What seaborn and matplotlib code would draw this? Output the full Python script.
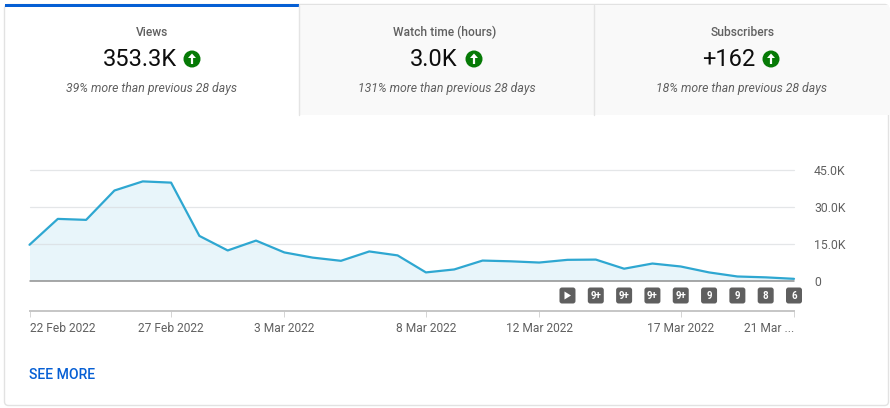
import matplotlib
matplotlib.use("Agg")
import matplotlib.pyplot as plt
import matplotlib.dates as mdates
from matplotlib.patches import Circle, FancyBboxPatch, Polygon, Rectangle
import pandas as pd
import seaborn as sns

# values
dates = ["2022-02-22", "2022-02-23", "2022-02-24", "2022-02-25", "2022-02-26", "2022-02-27", "2022-02-28",
         "2022-03-01", "2022-03-02", "2022-03-03", "2022-03-04", "2022-03-05", "2022-03-06", "2022-03-07",
         "2022-03-08", "2022-03-09", "2022-03-10", "2022-03-11", "2022-03-12", "2022-03-13", "2022-03-14",
         "2022-03-15", "2022-03-16", "2022-03-17", "2022-03-18", "2022-03-19", "2022-03-20", "2022-03-21"]
views = [14600, 25100, 24700, 36600, 40300, 39800, 18200,
         12300, 16300, 11500, 9400, 8100, 11900, 10300,
         3400, 4600, 8200, 7900, 7400, 8500, 8600,
         4900, 7000, 5800, 3400, 1750, 1400, 800]

tab_titles = ["Views", "Watch time (hours)", "Subscribers"]
tab_values = ["353.3K", "3.0K", "+162"]
tab_notes = ["39% more than previous 28 days", "131% more than previous 28 days", "18% more than previous 28 days"]

y_ticks = [0, 15000, 30000, 45000]
y_labels = ["0", "15.0K", "30.0K", "45.0K"]
x_ticks = ["2022-02-22", "2022-02-27", "2022-03-03", "2022-03-08", "2022-03-12", "2022-03-17", "2022-03-21"]
x_labels = ["22 Feb 2022", "27 Feb 2022", "3 Mar 2022", "8 Mar 2022", "12 Mar 2022", "17 Mar 2022", "21 Mar ..."]

badge_dates = ["2022-03-13", "2022-03-14", "2022-03-15", "2022-03-16", "2022-03-17",
               "2022-03-18", "2022-03-19", "2022-03-20", "2022-03-21"]
badge_labels = ["", "9+", "9+", "9+", "9+", "9", "9", "8", "6"]

BLUE = "#065fd4"
LINE = "#2ea7d1"
FILL = "#e8f5fa"
GREY = "#606060"
W, H = 890, 408

sns.set_theme(style="white")
plt.rcParams["font.family"] = ["Roboto", "DejaVu Sans"]

df = pd.DataFrame({"date": pd.to_datetime(dates), "views": views})

fig = plt.figure(figsize=(W / 100, H / 100), dpi=100)

# background layer in pixel coordinates for the card and tabs
bg = fig.add_axes([0, 0, 1, 1], zorder=0)
bg.set_xlim(0, W)
bg.set_ylim(H, 0)
bg.axis("off")

bg.add_patch(FancyBboxPatch((4.5, 4.5), 884, 401, boxstyle="round,pad=0,rounding_size=4",
                            fc="white", ec="#e2e2e2", lw=1))
bg.add_patch(Rectangle((298.5, 5), 590, 110, fc="#f9f9f9", ec="none"))
bg.plot([299, 299], [5, 115], color="#e4e4e4", lw=1)
bg.plot([594, 594], [5, 115], color="#e4e4e4", lw=1)
bg.add_patch(Rectangle((5, 4), 294, 3, fc=BLUE, ec="none"))

title_x = [152.5, 444.5, 742.5]
note_x = [152, 447, 742]
value_x = [139.5, 434, 729]
icon_x = [192, 474, 771]
for i in range(3):
    bg.text(title_x[i], 32, tab_titles[i], ha="center", va="center", fontsize=8.64, color=GREY, fontweight="medium")
    bg.text(value_x[i], 59, tab_values[i], ha="center", va="center", fontsize=17, color="#0d0d0d")
    bg.text(note_x[i], 88.5, tab_notes[i], ha="center", va="center", fontsize=8.8, color=GREY, style="italic")
    bg.add_patch(Circle((icon_x[i], 59), 8.5, fc="#067a06", ec="none"))
    cx = icon_x[i]
    bg.add_patch(Polygon([(cx, 53.5), (cx + 4, 58), (cx + 1.1, 58), (cx + 1.1, 64), (cx - 1.1, 64),
                          (cx - 1.1, 58), (cx - 4, 58)], fc="white", ec="none"))

bg.text(29, 375, "SEE MORE", ha="left", va="center", fontsize=10.1, color=BLUE, fontweight="medium")

# the chart itself
ax = fig.add_axes([29.5 / W, 1 - 280.8 / H, (794 - 29.5) / W, 111 / H], zorder=1)
ax.patch.set_alpha(0)
ax.fill_between(df["date"], df["views"], 0, color=FILL, lw=0, zorder=1)
sns.lineplot(data=df, x="date", y="views", color=LINE, linewidth=1.6, ax=ax, zorder=3, clip_on=False)

ax.set_xlim(df["date"].iloc[0], df["date"].iloc[-1])
ax.set_ylim(0, 45000)
ax.set_xlabel("")
ax.set_ylabel("")

ax.yaxis.tick_right()
ax.set_yticks(y_ticks)
ax.set_yticklabels(y_labels, fontsize=8.8, color=GREY)
ax.tick_params(axis="y", length=0, pad=14.4)
for v in y_ticks[1:]:
    ax.axhline(v, color="#d9dcdf", lw=0.9, alpha=0.7, zorder=2, clip_on=False)
ax.axhline(0, color="#909090", lw=1.1, zorder=4, clip_on=False)

for s in ["top", "left", "right"]:
    ax.spines[s].set_visible(False)
ax.spines["bottom"].set_position(("outward", 21.8))
ax.spines["bottom"].set_color("#c6c6c6")
ax.spines["bottom"].set_linewidth(1.4)

ax.set_xticks(pd.to_datetime(x_ticks))
ax.set_xticklabels(x_labels, fontsize=8.64, color=GREY)
ax.tick_params(axis="x", length=4, width=0.7, color="#d4d4d4", pad=4, bottom=True)
tick_labels = ax.get_xticklabels()
tick_labels[0].set_ha("left")
tick_labels[-1].set_ha("right")

# annotation badges sit under the date they belong to
for d, label in zip(badge_dates, badge_labels):
    px = ax.transData.transform((mdates.date2num(pd.Timestamp(d)), 0))[0]
    bg.add_patch(FancyBboxPatch((px - 8, 287.5), 16, 16, boxstyle="round,pad=0,rounding_size=2.5",
                                fc="#5f5f5f", ec="none"))
    if label:
        bg.text(px, 295.8, label, ha="center", va="center", fontsize=7, color="white", fontweight="bold")
    else:
        bg.add_patch(Polygon([(px - 3, 291.5), (px + 3.5, 295.5), (px - 3, 299.5)], fc="white", ec="none"))

fig.savefig("out.png", dpi=100)
